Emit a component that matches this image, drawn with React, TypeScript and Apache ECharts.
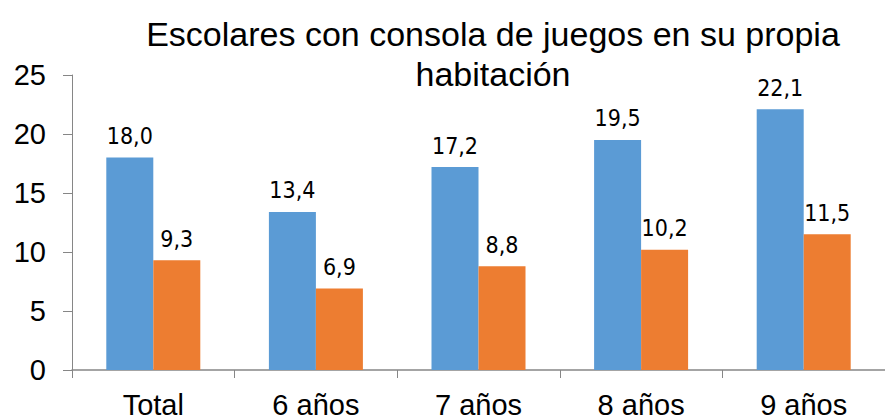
import React, { useEffect, useRef } from "react";
import * as echarts from "echarts";

const categories = ["Total", "6 años", "7 años", "8 años", "9 años"];
const seriesA = [18.0, 13.4, 17.2, 19.5, 22.1];
const seriesB = [9.3, 6.9, 8.8, 10.2, 11.5];
const titleText = "Escolares con consola de juegos en su propia\nhabitación";

const FONT = "'Liberation Sans', Arial, sans-serif";
const LFONT = "'DejaVu Sans Condensed', 'Liberation Sans', sans-serif";

export default function App() {
  const ref = useRef<HTMLDivElement>(null);
  useEffect(() => {
    if (!ref.current) return;
    const chart = echarts.init(ref.current, null, { renderer: "svg" });
    const fmt = (p: any) => Number(p.value).toFixed(1).replace(".", ",");
    chart.setOption({
      animation: false,
      backgroundColor: "#ffffff",
      title: {
        text: titleText,
        left: 488,
        top: 9,
        textAlign: "center",
        textStyle: { fontFamily: FONT, fontSize: 34, fontWeight: "normal", color: "#000", lineHeight: 40 },
      },
      grid: { left: 72, top: 75, bottom: 50, width: 819, containLabel: false },
      xAxis: {
        type: "category",
        data: categories,
        axisLine: { lineStyle: { color: "#868686", width: 1.5 } },
        axisTick: { show: true, length: 8, lineStyle: { color: "#868686" } },
        axisLabel: { fontFamily: FONT, fontSize: 29, color: "#000", margin: 20 },
      },
      yAxis: {
        type: "value",
        min: 0,
        max: 25,
        interval: 5,
        splitLine: { show: false },
        axisLine: { show: true, lineStyle: { color: "#868686" } },
        axisTick: { show: true, inside: false, length: 9, lineStyle: { color: "#868686" } },
        axisLabel: { fontFamily: FONT, fontSize: 29, color: "#000", margin: 26 },
      },
      series: [
        {
          type: "bar",
          data: seriesA,
          barWidth: 47,
          barGap: "0%",
          itemStyle: { color: "#5B9BD5" },
          label: { show: true, position: "top", distance: 10, formatter: fmt, fontFamily: LFONT, fontSize: 23, color: "#000" },
        },
        {
          type: "bar",
          data: seriesB,
          barWidth: 47,
          barGap: "0%",
          itemStyle: { color: "#ED7D31" },
          label: { show: true, position: "top", distance: 10, formatter: fmt, fontFamily: LFONT, fontSize: 23, color: "#000" },
        },
      ],
    });
    return () => chart.dispose();
  }, []);
  return <div ref={ref} style={{ position: "absolute", left: 0, top: 0, width: 885, height: 420 }} />;
}
